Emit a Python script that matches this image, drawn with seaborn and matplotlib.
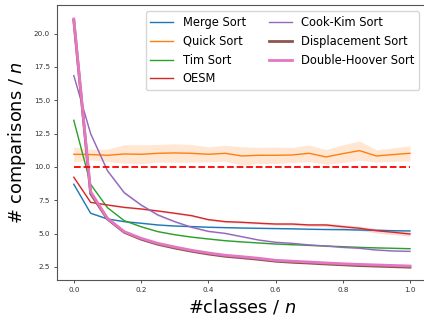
import matplotlib
matplotlib.use("Agg")
import matplotlib.pyplot as plt
import seaborn as sns
import pandas as pd

x = [0.0, 0.05, 0.1, 0.15, 0.2, 0.25, 0.3, 0.35, 0.4, 0.45, 0.5,
     0.55, 0.6, 0.65, 0.7, 0.75, 0.8, 0.85, 0.9, 0.95, 1.0]

merge_sort = [8.7, 6.53, 6.1, 5.9, 5.78, 5.65, 5.57, 5.53, 5.48, 5.45, 5.42,
              5.4, 5.38, 5.36, 5.33, 5.31, 5.3, 5.27, 5.25, 5.22, 5.2]
quick_sort = [10.95, 10.93, 10.875, 10.975, 10.95, 11.025, 11.05, 11.025, 10.95, 11.025, 10.825,
              10.875, 10.875, 10.9, 11.025, 10.75, 11.0, 11.225, 10.825, 10.93, 11.025]
tim_sort = [13.5, 8.7, 6.95, 5.97, 5.52, 5.15, 4.92, 4.74, 4.6, 4.47, 4.38,
            4.3, 4.22, 4.17, 4.12, 4.07, 4.02, 3.97, 3.93, 3.9, 3.87]
oesm = [9.23, 7.35, 7.15, 6.97, 6.85, 6.7, 6.53, 6.35, 6.05, 5.9, 5.85,
        5.78, 5.72, 5.72, 5.65, 5.65, 5.52, 5.4, 5.22, 5.1, 4.97]
cook_kim = [16.85, 12.5, 9.72, 8.07, 7.15, 6.4, 5.9, 5.48, 5.17, 5.02, 4.77,
            4.52, 4.35, 4.27, 4.15, 4.07, 3.97, 3.9, 3.77, 3.7, 3.67]
displacement = [21.0, 8.0, 6.1, 5.1, 4.58, 4.2, 3.92, 3.68, 3.47, 3.3, 3.19,
                3.07, 2.93, 2.85, 2.79, 2.72, 2.66, 2.6, 2.56, 2.52, 2.48]
double_hoover = [21.1, 8.15, 6.15, 5.15, 4.65, 4.27, 4.0, 3.75, 3.55, 3.38, 3.27,
                 3.15, 3.0, 2.93, 2.87, 2.8, 2.74, 2.69, 2.65, 2.61, 2.57]

# confidence band half-widths
quick_ci = [0.56, 0.40, 0.46, 0.69, 0.72, 0.66, 0.69, 0.66, 0.56, 0.6, 0.69,
            0.6, 0.62, 0.56, 0.62, 0.56, 0.66, 0.72, 0.46, 0.5, 0.57]
oesm_ci = [0.05, 0.05, 0.05, 0.05, 0.05, 0.06, 0.06, 0.06, 0.06, 0.07, 0.07,
           0.08, 0.08, 0.09, 0.1, 0.12, 0.14, 0.16, 0.17, 0.17, 0.16]
cook_ci = [0.1, 0.12, 0.12, 0.12, 0.1, 0.1, 0.08, 0.07, 0.06, 0.06, 0.06,
           0.05, 0.05, 0.05, 0.05, 0.05, 0.05, 0.05, 0.05, 0.05, 0.05]
small_ci = [0.04] * len(x)
pink_ci = [0.1, 0.1, 0.08, 0.07, 0.06, 0.06, 0.06, 0.06, 0.06, 0.06, 0.06,
           0.06, 0.06, 0.06, 0.06, 0.06, 0.06, 0.06, 0.06, 0.06, 0.06]

labels = ["Merge Sort", "Quick Sort", "Tim Sort", "OESM",
          "Cook-Kim Sort", "Displacement Sort", "Double-Hoover Sort"]
series = [merge_sort, quick_sort, tim_sort, oesm, cook_kim, displacement, double_hoover]
cis = [small_ci, quick_ci, small_ci, oesm_ci, cook_ci, small_ci, pink_ci]
widths = [1.0, 1.0, 1.0, 1.0, 1.0, 2.0, 2.0]
threshold = 10.0

palette = sns.color_palette("tab10", 7)

plt.rcParams["font.family"] = ["DejaVu Sans"]
plt.rcParams["mathtext.fontset"] = "dejavusans"

fig = plt.figure(figsize=(4.24, 3.24), dpi=100)
ax = fig.add_axes([0.1344, 0.1358, 0.8722, 0.8488])

for lab, vals, ci, lw, col in zip(labels, series, cis, widths, palette):
    df = pd.DataFrame({"x": x, "y": vals})
    sns.lineplot(data=df, x="x", y="y", ax=ax, color=col, lw=lw, label=lab)
    lo = [v - c for v, c in zip(vals, ci)]
    hi = [v + c for v, c in zip(vals, ci)]
    ax.fill_between(x, lo, hi, color=col, alpha=0.18, lw=0)

ax.hlines(threshold, x[0], x[-1], colors="red", linestyles="--", lw=1.3)

ax.set_xlim(-0.05, 1.05)
ax.set_ylim(1.52, 22.15)
ax.set_xlabel("#classes / $n$", fontsize=12.8, labelpad=3)
ax.set_ylabel("# comparisons / $n$", fontsize=12.8, labelpad=4)
ax.tick_params(axis="both", labelsize=5.2, length=2.5, width=0.6, pad=2.5, colors="#333333")
for s in ax.spines.values():
    s.set_color("#555555")
    s.set_linewidth(0.8)

ax.legend(loc="upper right", ncol=2, fontsize=8.3, frameon=True,
          bbox_to_anchor=(0.985, 0.985), borderaxespad=0.2)

fig.savefig("out.png", dpi=100)
